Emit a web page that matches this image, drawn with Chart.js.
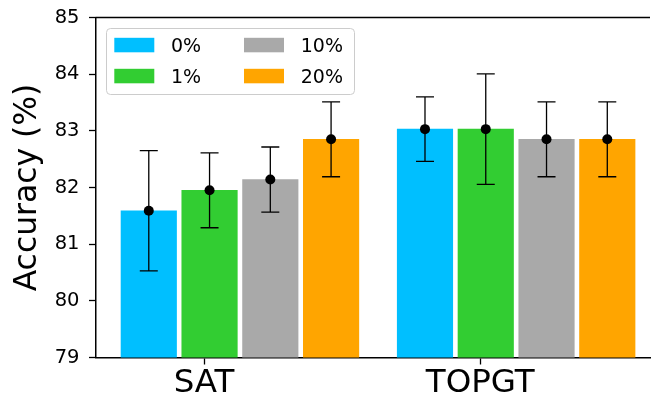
<!DOCTYPE html>
<html><head><meta charset="utf-8">
<script src="https://cdn.jsdelivr.net/npm/chart.js@4.4.1/dist/chart.umd.min.js"></script>
<style>html,body{margin:0;padding:0;background:#fff;overflow:hidden}#wrap{width:655px;height:402px;position:relative}</style>
</head><body><div id="wrap"><canvas id="c" width="655" height="402"></canvas></div>
<script>
// ---- data ----
const categories = ['SAT', 'TOPGT'];
const seriesLabels = ['0%', '1%', '10%', '20%'];
const acc0 = [81.59, 83.03];
const acc1 = [81.95, 83.03];
const acc10 = [82.14, 82.85];
const acc20 = [82.85, 82.85];
const err0 = [1.06, 0.57];
const err1 = [0.66, 0.975];
const err10 = [0.575, 0.66];
const err20 = [0.66, 0.66];
const yTicks = [79, 80, 81, 82, 83, 84, 85];
const yTitle = 'Accuracy (%)';

// ---- style ----
const colors = ['#00BFFF', '#32CD32', '#A9A9A9', '#FFA500'];
const offsets = [-0.2, 0.02, 0.24, 0.46];
const FONT = "'DejaVu Sans', sans-serif";
const means = [acc0, acc1, acc10, acc20];
const errs = [err0, err1, err10, err20];

const barSets = seriesLabels.map((lab, s) => ({
  type: 'bar', label: lab, backgroundColor: colors[s], borderWidth: 0,
  barThickness: 55.5, grouped: false, order: 1,
  data: categories.map((c, i) => ({ x: i + offsets[s], y: means[s][i] })),
  errors: errs[s]
}));
const pointData = [];
seriesLabels.forEach((lab, s) => categories.forEach((c, i) => pointData.push({ x: i + offsets[s], y: means[s][i] })));
const pointSet = {
  type: 'line', label: 'mean', showLine: false, order: 0, data: pointData,
  pointRadius: 5, pointHoverRadius: 5, pointBorderWidth: 0, pointBackgroundColor: '#000', borderColor: '#000'
};

const errorBarPlugin = {
  id: 'errbars',
  afterDatasetDraw(chart, args) {
    const ds = chart.data.datasets[args.index];
    if (!ds.errors) return;
    const { ctx } = chart; const x = chart.scales.x, y = chart.scales.y;
    ctx.save(); ctx.strokeStyle = '#000'; ctx.lineWidth = 1.3;
    ds.data.forEach((d, i) => {
      const px = x.getPixelForValue(d.x);
      const t = y.getPixelForValue(d.y + ds.errors[i]);
      const b = y.getPixelForValue(d.y - ds.errors[i]);
      ctx.beginPath();
      ctx.moveTo(px, t); ctx.lineTo(px, b);
      ctx.moveTo(px - 9, t); ctx.lineTo(px + 9, t);
      ctx.moveTo(px - 9, b); ctx.lineTo(px + 9, b);
      ctx.stroke();
    });
    ctx.restore();
  }
};

const spinePlugin = {
  id: 'topSpine',
  afterDraw(chart) {
    const { ctx, chartArea: a } = chart;
    ctx.save(); ctx.strokeStyle = '#000'; ctx.lineWidth = 1.5;
    ctx.beginPath(); ctx.moveTo(a.left - 0.75, a.top); ctx.lineTo(a.right, a.top); ctx.stroke();
    ctx.restore();
  }
};

const legendPlugin = {
  id: 'boxLegend',
  afterDraw(chart) {
    const ctx = chart.ctx;
    const bars = chart.data.datasets.filter(d => d.type === 'bar');
    ctx.save();
    const lx = 106.5, ly = 28.5, lw = 248, lh = 66, r = 4;
    ctx.beginPath();
    ctx.moveTo(lx + r, ly); ctx.lineTo(lx + lw - r, ly); ctx.arcTo(lx + lw, ly, lx + lw, ly + r, r);
    ctx.lineTo(lx + lw, ly + lh - r); ctx.arcTo(lx + lw, ly + lh, lx + lw - r, ly + lh, r);
    ctx.lineTo(lx + r, ly + lh); ctx.arcTo(lx, ly + lh, lx, ly + lh - r, r);
    ctx.lineTo(lx, ly + r); ctx.arcTo(lx, ly, lx + r, ly, r); ctx.closePath();
    ctx.fillStyle = 'rgba(255,255,255,0.8)'; ctx.fill();
    ctx.strokeStyle = '#cccccc'; ctx.lineWidth = 1; ctx.stroke();
    ctx.font = "19px " + FONT; ctx.textBaseline = 'alphabetic'; ctx.textAlign = 'left';
    bars.forEach((d, k) => {
      const col = Math.floor(k / 2), row = k % 2;
      const bx = 114.3 + col * 129.7, by = 37.8 + row * 31;
      ctx.fillStyle = d.backgroundColor; ctx.fillRect(bx, by, 40, 14.5);
      ctx.fillStyle = '#000'; ctx.fillText(d.label, bx + 56.7, 52.3 + row * 31);
    });
    ctx.restore();
  }
};

const xMin = (96 - 205) / 278.7, xMax = (655 - 205) / 278.7;

new Chart(document.getElementById('c'), {
  type: 'bar',
  data: { datasets: [...barSets, pointSet] },
  options: {
    responsive: false, animation: false, devicePixelRatio: 1,
    layout: { padding: { top: 17.5, right: 0, left: 0, bottom: 0 } },
    datasets: { bar: { grouped: false } },
    plugins: { legend: { display: false }, tooltip: { enabled: false } },
    scales: {
      x: {
        type: 'linear', min: xMin, max: xMax, offset: false,
        afterBuildTicks: s => { s.ticks = categories.map((c, i) => ({ value: i })); },
        afterFit: s => { s.height = 44.5; s.paddingLeft = 0; s.paddingRight = 0; },
        ticks: { callback: v => categories[v] ?? '', font: { family: FONT, size: 32.5 }, color: '#000', padding: 0, maxRotation: 0, autoSkip: false },
        grid: { display: true, offset: false, drawOnChartArea: false, drawTicks: true, tickLength: 7, tickWidth: 1.3, tickColor: '#000' },
        border: { display: true, color: '#000', width: 1.5 }
      },
      y: {
        type: 'linear', min: 79, max: 85,
        afterBuildTicks: s => { s.ticks = yTicks.map(v => ({ value: v })); },
        afterFit: s => { s.width = 96; s.paddingTop = 0; s.paddingBottom = 0; },
        ticks: { callback: v => String(v), font: { family: FONT, size: 19.5 }, color: '#000', padding: 9.5 },
        grid: { display: true, offset: false, drawOnChartArea: false, drawTicks: true, tickLength: 7, tickWidth: 1.3, tickColor: '#000' },
        border: { display: true, color: '#000', width: 1.5 },
        title: { display: true, text: yTitle, font: { family: FONT, size: 31.4 }, color: '#000', padding: { top: 9.2, bottom: 0 } }
      }
    }
  },
  plugins: [errorBarPlugin, spinePlugin, legendPlugin]
});
</script></body></html>
